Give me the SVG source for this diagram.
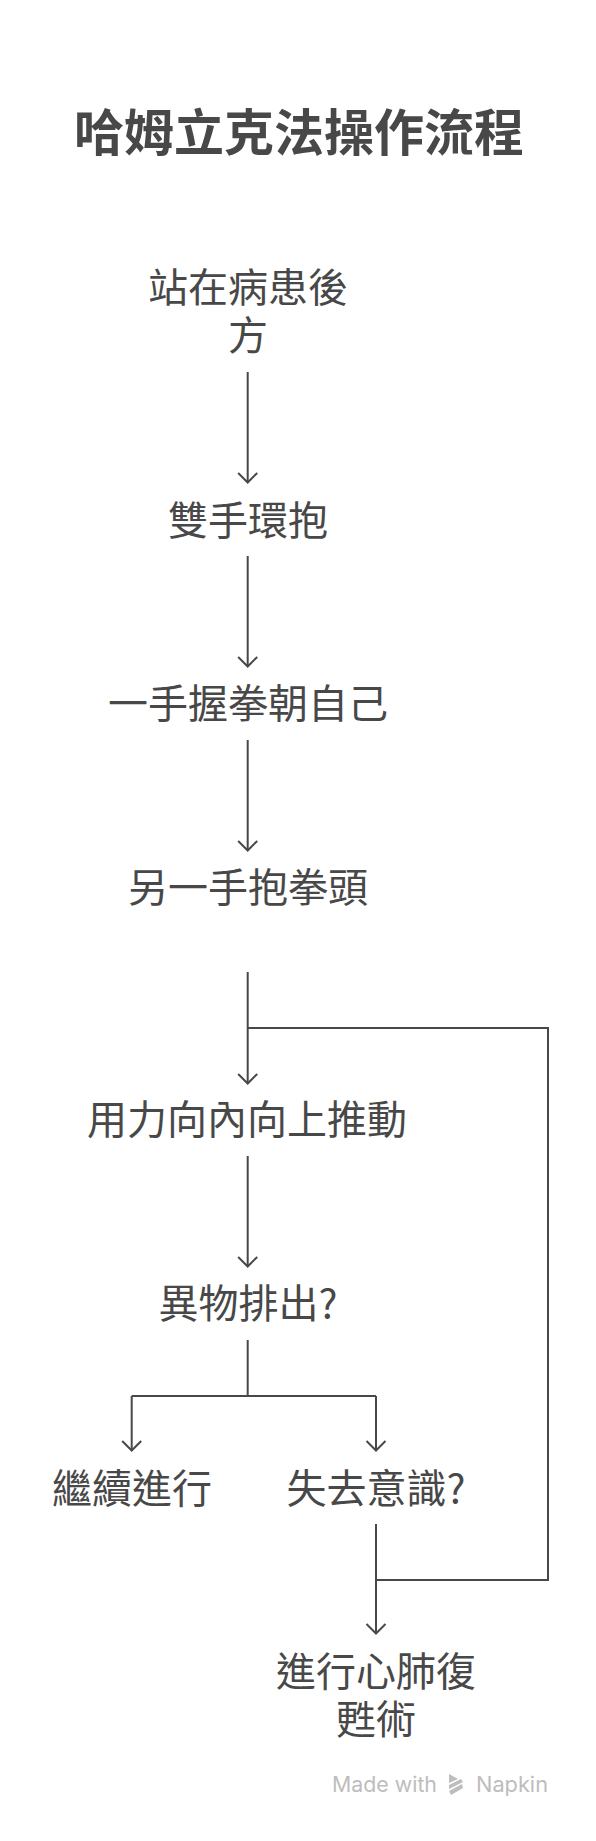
<svg xmlns="http://www.w3.org/2000/svg" width="596" height="1841" viewBox="0 0 596 1841">
<defs>
<style>
.t{font-family:"Noto Sans CJK TC","Noto Sans CJK SC",sans-serif;font-size:40px;fill:#484848;text-anchor:middle}
.title{font-family:"Noto Sans CJK TC","Noto Sans CJK SC",sans-serif;font-size:50px;font-weight:bold;fill:#484848;text-anchor:middle}
.c{fill:none;stroke:#484848;stroke-width:2}
.wm{font-family:Inter,"Noto Sans",sans-serif;font-size:21px;fill:#bdbdbd}
</style>
</defs>
<rect width="596" height="1841" fill="#ffffff"/>
<g id="title"><text class="title" x="299" y="151">哈姆立克法操作流程</text></g>
<g id="connectors">
<path class="c" d="M247.7,372 V482"/>
<path class="c" d="M247.7,556 V666"/>
<path class="c" d="M247.7,740 V850"/>
<path class="c" d="M247.7,972 V1083"/>
<path class="c" d="M376,1580 H548 V1028 H247.7"/>
<path class="c" d="M247.7,1156 V1266"/>
<path class="c" d="M247.7,1340 V1396"/>
<path class="c" d="M131.7,1396 H376"/>
<path class="c" d="M131.7,1396 V1450"/>
<path class="c" d="M376,1396 V1450"/>
<path class="c" d="M376,1524 V1633"/>
<g class="c">
<path d="M238.2,473 L247.7,482.5 L257.2,473"/>
<path d="M238.2,657 L247.7,666.5 L257.2,657"/>
<path d="M238.2,841 L247.7,850.5 L257.2,841"/>
<path d="M238.2,1074 L247.7,1083.5 L257.2,1074"/>
<path d="M238.2,1257 L247.7,1266.5 L257.2,1257"/>
<path d="M122.2,1441 L131.7,1450.5 L141.2,1441"/>
<path d="M366.5,1441 L376,1450.5 L385.5,1441"/>
<path d="M366.5,1624 L376,1633.5 L385.5,1624"/>
</g>
</g>
<g id="n1"><text class="t" x="248" y="302">站在病患後<tspan x="248" y="350">方</tspan></text></g>
<g id="n2"><text class="t" x="248" y="535">雙手環抱</text></g>
<g id="n3"><text class="t" x="248" y="718">一手握拳朝自己</text></g>
<g id="n4"><text class="t" x="248" y="902">另一手抱拳頭</text></g>
<g id="n5"><text class="t" x="247" y="1134">用力向內向上推動</text></g>
<g id="n6"><text class="t" x="248" y="1318">異物排出?</text></g>
<g id="n7"><text class="t" x="132" y="1503">繼續進行</text></g>
<g id="n8"><text class="t" x="376" y="1503">失去意識?</text></g>
<g id="n9"><text class="t" x="376" y="1686">進行心肺復<tspan x="376" y="1734">甦術</tspan></text></g>
<g id="watermark">
<text class="wm" x="332" y="1792" textLength="105" lengthAdjust="spacingAndGlyphs">Made with</text>
<g fill="#bdbdbd">
<polygon points="449,1774 458,1779 449,1783"/>
<polygon points="449,1785 461,1779 463,1782 449,1789"/>
<polygon points="449,1791 462,1784 463,1788 451,1795"/>
</g>
<text class="wm" x="476" y="1792" textLength="72" lengthAdjust="spacingAndGlyphs">Napkin</text>
</g>
</svg>
